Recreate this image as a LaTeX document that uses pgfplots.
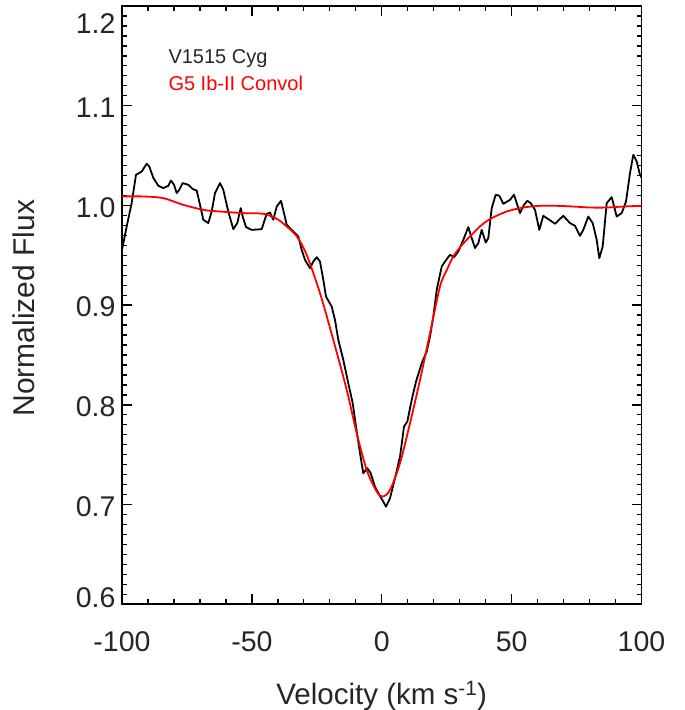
\documentclass[border=0pt]{standalone}
\usepackage{pgfplots}
\pgfplotsset{compat=1.18}
\usepackage{fontspec}
\setmainfont{Liberation Sans}
\definecolor{txt}{gray}{0.15}
\begin{document}
\begin{tikzpicture}
\useasboundingbox (-122bp,-105.7bp) rectangle (563bp,604.3bp);
\begin{axis}[
  name=ax,
  at={(0,0)}, anchor=south west,
  scale only axis,
  width=519.5bp, height=598.3bp,
  xmin=-100, xmax=100, ymin=0.6, ymax=1.2,
  axis line style={line width=1.6bp, black},
  tick align=inside,
  xtick={-100,-50,0,50,100},
  xticklabels={-100,-50,0,50,100},
  ytick={0.6,0.7,0.8,0.9,1.0,1.1,1.2},
  yticklabels={\raisebox{9bp}[\height][\depth]{0.6},0.7,0.8,0.9,1.0,1.1,\raisebox{-16bp}[\height][\depth]{1.2}},
  minor x tick num=4,
  minor y tick num=9,
  major tick length=10bp,
  minor tick length=5bp,
  every tick/.style={line width=1.3bp, black},
  ticklabel style={font=\fontsize{28.5bp}{32bp}\selectfont, text=txt},
  xticklabel style={yshift=-24bp},
  yticklabel style={xshift=-3bp, yshift=-2bp},
]
\addplot[black, line width=1.8bp, line join=round] coordinates {
(-100,0.9560) (-99.73,0.9588) (-98.19,0.9789) (-96.27,1.0026) (-94.61,1.0307) (-92.42,1.0340)
(-90.49,1.0418) (-89.49,1.0390) (-87.95,1.0277) (-86.03,1.0197) (-84.10,1.0174)
(-82.18,1.0197) (-81.14,1.0250) (-79.98,1.0207) (-78.94,1.0124) (-77.94,1.0157)
(-76.63,1.0224) (-74.48,1.0207) (-72.78,1.0164) (-71.24,1.0150) (-69.97,1.0006)
(-68.70,0.9856) (-66.78,0.9823) (-65.47,0.9939) (-64.20,1.0124) (-62.27,1.0224)
(-61.00,1.0157) (-59.08,0.9939) (-57.15,0.9762) (-55.61,0.9823) (-54.30,0.9973)
(-53.53,0.9889) (-52.26,0.9783) (-50.07,0.9755) (-46.22,0.9762) (-44.29,0.9916)
(-43.02,0.9929) (-41.75,0.9856) (-40.44,0.9989) (-38.79,1.0046) (-37.63,0.9923)
(-36.59,0.9806) (-34.05,0.9738) (-32.13,0.9688) (-30.82,0.9555) (-29.55,0.9454)
(-27.62,0.9371) (-26.35,0.9437) (-25.04,0.9481) (-23.77,0.9437) (-22.50,0.9254)
(-21.46,0.9086) (-19.27,0.8986) (-18.00,0.8852) (-16.73,0.8652) (-14.80,0.8451)
(-12.88,0.8217) (-11.18,0.8017) (-9.91,0.7782) (-8.37,0.7515) (-7.10,0.7314)
(-5.56,0.7365) (-4.25,0.7314) (-2.60,0.7180) (-0.94,0.7097) (0.60,0.7029)
(1.64,0.6979) (3.18,0.7064) (5.10,0.7264) (7.03,0.7481) (8.57,0.7782)
(9.84,0.7832) (11.53,0.8050) (13.19,0.8233) (15.38,0.8418) (17.31,0.8534)
(18.58,0.8685) (19.85,0.8886) (21.16,0.9153) (23.08,0.9387) (24.35,0.9437)
(26.27,0.9505) (27.82,0.9481) (29.47,0.9538) (31.40,0.9655) (33.32,0.9783)
(34.63,0.9672) (35.90,0.9572) (37.17,0.9622) (38.48,0.9755) (40.02,0.9628)
(41.02,0.9672) (42.33,0.9973) (43.87,1.0107) (45.25,1.0097) (46.79,1.0016)
(49.37,1.0056) (50.91,1.0107) (52.18,1.0006) (53.22,0.9923) (54.76,1.0006)
(56.03,1.0046) (57.34,1.0023) (59.00,0.9956) (60.65,0.9755) (62.19,0.9896)
(64.12,0.9863) (66.70,0.9816) (69.89,0.9896) (72.47,0.9823) (74.40,0.9796)
(76.32,0.9695) (77.59,0.9755) (79.52,0.9889) (81.21,0.9823) (82.75,0.9655)
(83.75,0.9471) (85.06,0.9588) (86.60,1.0023) (88.53,1.0083) (90.45,0.9889)
(92.38,0.9923) (94.03,1.0039) (95.57,1.0324) (96.84,1.0508) (98.15,1.0441)
(99.42,1.0307) (100,1.0280)
};
\addplot[red, line width=1.8bp, smooth, tension=0.5] coordinates {
(-100,1.0090) (-91.8,1.0090) (-84.1,1.0073) (-76.4,1.0006) (-68.7,0.9956)
(-62.27,0.9939) (-53.3,0.9923) (-45.6,0.9916) (-40.4,0.9865) (-36.6,0.9789)
(-32.7,0.9690) (-28.9,0.9505) (-23.77,0.9120) (-18.65,0.8652) (-13.49,0.8150)
(-9.64,0.7716) (-5.79,0.7347) (-1.94,0.7130) (0.37,0.7080) (3.18,0.7147)
(7.03,0.7415) (10.88,0.7816) (14.73,0.8250) (18.58,0.8719) (22.43,0.9187)
(25.0,0.9350) (27.55,0.9488) (30.12,0.9580) (32.70,0.9655) (35.24,0.9722)
(37.82,0.9790) (41.67,0.9863) (48.10,0.9939) (54.49,0.9979) (60.92,0.9996)
(67.35,0.9996) (73.74,0.9989) (80.17,0.9979) (86.60,0.9979) (93.0,0.9989)
(100,0.9996)
};
\end{axis}
\node[anchor=base west, inner sep=0pt, text=txt, font=\fontsize{20bp}{24bp}\selectfont] at ([xshift=46.3bp, yshift=-57.3bp]ax.north west) {V1515 Cyg};
\node[anchor=base west, inner sep=0pt, text=red, font=\fontsize{20bp}{24bp}\selectfont] at ([xshift=46.3bp, yshift=-85bp]ax.north west) {G5 Ib-II Convol};
\node[anchor=base, inner sep=0pt, text=txt, font=\fontsize{29.5bp}{34bp}\selectfont] at ([yshift=-100bp]ax.south) {Velocity (km s\textsuperscript{-1})};
\node[anchor=base, rotate=90, inner sep=0pt, text=txt, font=\fontsize{30bp}{34bp}\selectfont] at ([xshift=-87bp, yshift=-3bp]ax.west) {Normalized Flux};
\end{tikzpicture}
\end{document}
